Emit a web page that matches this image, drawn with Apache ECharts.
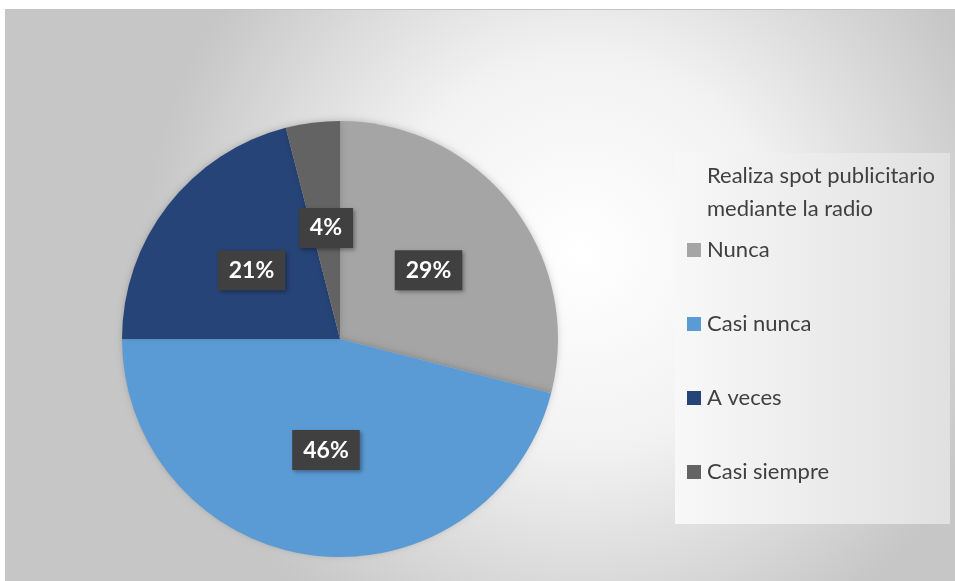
<!DOCTYPE html>
<html>
<head>
<meta charset="utf-8">
<script src="https://cdn.jsdelivr.net/npm/echarts@6/dist/echarts.min.js"></script>
<style>
  html, body { margin: 0; padding: 0; background: #ffffff; }
  #chart { width: 955px; height: 581px; }
</style>
</head>
<body>
<div id="chart"></div>
<script>
// Survey answers: "Realiza spot publicitario mediante la radio"
const legendTitle = 'Realiza spot publicitario\nmediante la radio';
const categories = ['Nunca', 'Casi nunca', 'A veces', 'Casi siempre'];
const percents = [29, 46, 21, 4];
const colors = ['#a5a5a5', '#5b9bd5', '#264478', '#636363'];

const FONT = 'Lato, "Open Sans", sans-serif';

const chart = echarts.init(document.getElementById('chart'), null, { renderer: 'canvas' });

const option = {
  animation: false,
  graphic: [
    {
      // chart area with soft radial fill
      type: 'rect', z: -10,
      shape: { x: 5.5, y: 9.5, width: 960, height: 580 },
      style: {
        fill: new echarts.graphic.RadialGradient(0.6, 0.42, 0.75, [
          { offset: 0, color: '#ffffff' },
          { offset: 0.45, color: '#f2f2f2' },
          { offset: 1, color: '#c6c6c6' }
        ]),
        stroke: '#c4c4c4', lineWidth: 1
      }
    },
    {
      // legend panel
      type: 'rect', z: -5,
      shape: { x: 675, y: 153, width: 275, height: 371 },
      style: {
        fill: new echarts.graphic.LinearGradient(0, 0, 1, 0, [
          { offset: 0, color: '#f8f8f8' },
          { offset: 1, color: '#e0e0e0' }
        ])
      }
    }
  ],
  title: {
    text: legendTitle,
    left: 707, top: 159,
    padding: 0,
    textStyle: { fontFamily: FONT, fontSize: 22, fontWeight: 'normal', color: '#404040', lineHeight: 33 }
  },
  legend: {
    orient: 'vertical',
    left: 687, top: 239,
    padding: 0,
    itemWidth: 14, itemHeight: 14,
    itemGap: 52,
    icon: 'rect',
    data: categories,
    textStyle: { fontFamily: FONT, fontSize: 22, color: '#404040', lineHeight: 22, padding: [0, 0, 0, 1] }
  },
  series: [{
    type: 'pie',
    center: [340, 339],
    radius: 218,
    startAngle: 90,
    clockwise: true,
    avoidLabelOverlap: false,
    itemStyle: {
      borderWidth: 0,
      shadowColor: 'rgba(0,0,0,0.18)', shadowBlur: 6, shadowOffsetY: -1
    },
    label: {
      show: true,
      position: 'inside',
      formatter: p => p.value + '%',
      fontFamily: FONT,
      fontSize: 23,
      fontWeight: 'bold',
      color: '#ffffff',
      backgroundColor: '#404040',
      padding: [9, 11, 8, 11],
      shadowColor: 'rgba(0,0,0,0.35)', shadowBlur: 4, shadowOffsetX: 2, shadowOffsetY: 2
    },
    labelLine: { show: false },
    emphasis: { disabled: true },
    data: categories.map((name, i) => ({
      name, value: percents[i], itemStyle: { color: colors[i] }
    }))
  }]
};

chart.setOption(option);
</script>
</body>
</html>
